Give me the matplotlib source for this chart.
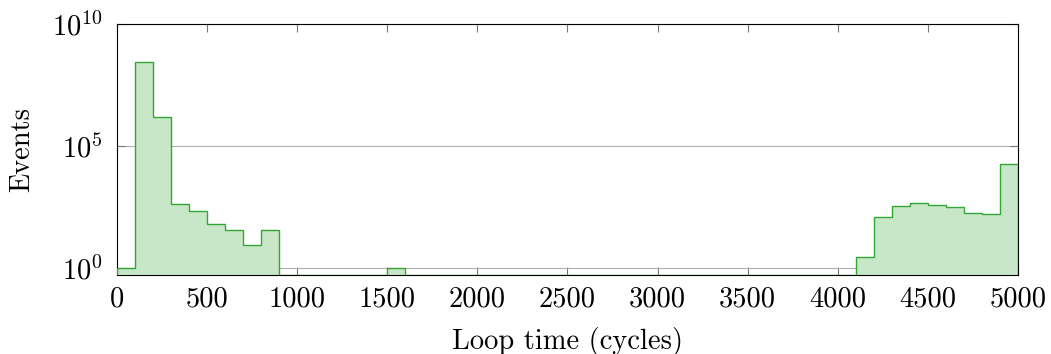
import numpy as np
import matplotlib
matplotlib.use('Agg')
import matplotlib.pyplot as plt

# Histogram data (bin width 100 cycles, 0..5000)
bin_edges = np.arange(0, 5001, 100)
counts = np.zeros(50)
counts[0:9] = [1, 2.8e8, 1.6e6, 400, 205, 60, 34, 8.5, 34]
counts[15] = 1
counts[41:50] = [2.8, 124, 330, 465, 386, 300, 170, 155, 18000]

plt.rcParams['mathtext.fontset'] = 'cm'
plt.rcParams['font.family'] = 'cmr10'
plt.rcParams['axes.formatter.use_mathtext'] = True

fig = plt.figure(figsize=(10.51, 3.54), dpi=100)
ax = fig.add_axes([0.1113, 0.2223, 0.8573, 0.7097])

ymin = 0.488
ax.stairs(counts, bin_edges, baseline=ymin, fill=True, color='#c8e6c8', zorder=2)
ax.stairs(np.where(counts > 0, counts, ymin), bin_edges, baseline=ymin,
          color='#33a633', linewidth=1.0, zorder=3)

ax.set_yscale('log')
ax.set_xlim(0, 5000)
ax.set_ylim(ymin, 1e10)
ax.set_yticks([1, 1e5, 1e10])
ax.set_yticklabels([r'$10^{0}$', r'$10^{5}$', r'$10^{10}$'])
ax.yaxis.set_minor_locator(matplotlib.ticker.NullLocator())
xt = np.arange(0, 5001, 500)
ax.set_xticks(xt)
ax.set_xticklabels([str(v) for v in xt])
ax.tick_params(direction='in', top=True, right=True, labelsize=20.5, length=6,
               color='#777777')
ax.tick_params(axis='x', pad=8)
ax.tick_params(axis='y', pad=10)
ax.grid(True, axis='y', color='#b0b0b0', linewidth=0.8, zorder=1)
ax.set_axisbelow(True)

ax.set_xlabel('Loop time (cycles)', fontsize=20.5, labelpad=10)
ax.set_ylabel('Events', fontsize=20.5, labelpad=12)

fig.savefig('out.png', dpi=100)
